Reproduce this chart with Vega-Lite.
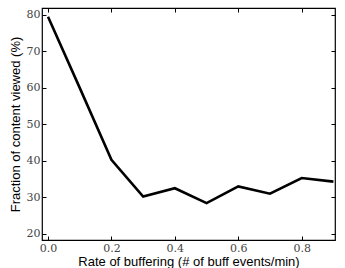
{
  "$schema": "https://vega.github.io/schema/vega-lite/v6.json",
  "autosize": "none",
  "width": 293,
  "height": 232,
  "padding": {"left": 42, "top": 8, "right": 10, "bottom": 28},
  "background": "white",
  "config": {
    "view": {"stroke": "#000", "strokeWidth": 1.2},
    "axis": {
      "domain": false,
      "grid": false,
      "ticks": true,
      "tickColor": "#000",
      "tickSize": -4,
      "labelFont": "DejaVu Serif",
      "labelFontSize": 11,
      "labelColor": "#444",
      "titleFont": "Liberation Sans",
      "titleFontSize": 13,
      "titleFontWeight": "normal",
      "titleColor": "#000"
    }
  },
  "data": {"values": [
    {"rate": 0.0, "fraction": 79.5},
    {"rate": 0.1, "fraction": 60.0},
    {"rate": 0.2, "fraction": 40.3},
    {"rate": 0.3, "fraction": 30.2},
    {"rate": 0.4, "fraction": 32.5},
    {"rate": 0.5, "fraction": 28.4},
    {"rate": 0.6, "fraction": 33.0},
    {"rate": 0.7, "fraction": 31.0},
    {"rate": 0.8, "fraction": 35.3},
    {"rate": 0.9, "fraction": 34.3}
  ]},
  "resolve": {"axis": {"x": "independent", "y": "independent"}},
  "layer": [
    {
      "mark": {"type": "line", "color": "#000", "strokeWidth": 2.6, "clip": true},
      "encoding": {
        "x": {"field": "rate", "type": "quantitative",
              "scale": {"domain": [-0.019, 0.905], "nice": false, "zero": false},
              "axis": {"values": [0, 0.2, 0.4, 0.6, 0.8], "format": ".1f", "labelPadding": 6, "title": "Rate of buffering (# of buff events/min)", "titlePadding": 2}},
        "y": {"field": "fraction", "type": "quantitative",
              "scale": {"domain": [18.3, 81.9], "nice": false, "zero": false},
              "axis": {"values": [20, 30, 40, 50, 60, 70, 80], "labelPadding": 6, "title": "Fraction of content viewed (%)", "titlePadding": 4}}
      }
    },
    {
      "mark": {"type": "line", "opacity": 0},
      "encoding": {
        "x": {"field": "rate", "type": "quantitative",
              "scale": {"domain": [-0.019, 0.905], "nice": false, "zero": false},
              "axis": {"orient": "top", "values": [0, 0.2, 0.4, 0.6, 0.8], "labels": false, "title": null}},
        "y": {"field": "fraction", "type": "quantitative",
              "scale": {"domain": [18.3, 81.9], "nice": false, "zero": false},
              "axis": {"orient": "right", "values": [20, 30, 40, 50, 60, 70, 80], "labels": false, "title": null}}
      }
    }
  ]
}
